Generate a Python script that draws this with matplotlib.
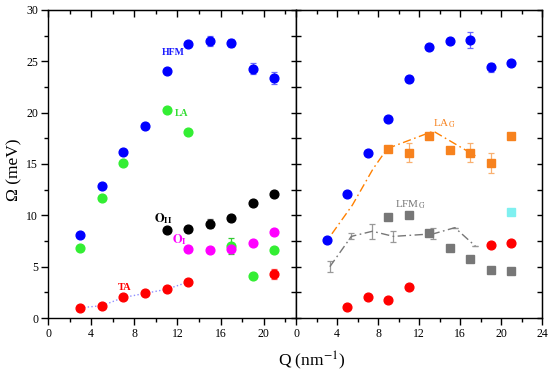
import numpy as np
import matplotlib
matplotlib.use('Agg')
import matplotlib.pyplot as plt
from matplotlib.ticker import MultipleLocator

plt.rcParams['font.family'] = ['Liberation Serif', 'DejaVu Serif']
plt.rcParams['mathtext.fontset'] = 'stix'

# ---- left panel data ----
hfm_q = [3, 5, 7, 9, 11, 13, 15, 17, 19, 21]
hfm_w = [8.1, 12.9, 16.2, 18.7, 24.1, 26.7, 27.0, 26.8, 24.3, 23.4]
hfm_e = [0, 0, 0, 0, 0, 0, 0.5, 0.4, 0.5, 0.6]

la_q = [3, 5, 7, 11, 13, 17, 19, 21]
la_w = [6.8, 11.7, 15.1, 20.3, 18.1, 7.0, 4.1, 6.6]
la_e = [0, 0, 0, 0, 0, 0.8, 0, 0]

o2_q = [11, 13, 15, 17, 19, 21]
o2_w = [8.6, 8.7, 9.2, 9.7, 11.2, 12.1]
o2_e = [0, 0.3, 0.4, 0.3, 0, 0]

o1_q = [13, 15, 17, 19, 21]
o1_w = [6.7, 6.6, 6.7, 7.3, 8.4]

ta_q = [3, 5, 7, 9, 11, 13, 21]
ta_w = [1.0, 1.2, 2.0, 2.4, 2.8, 3.5, 4.3]
ta_e = [0, 0, 0, 0, 0, 0, 0.5]

# ---- right panel data ----
hfmg_q = [3, 5, 7, 9, 11, 13, 15, 17, 19, 21]
hfmg_w = [7.6, 12.1, 16.1, 19.4, 23.3, 26.4, 27.0, 27.1, 24.4, 24.8]
hfmg_e = [0, 0, 0, 0, 0.3, 0, 0, 0.8, 0.4, 0]

lag_q = [9, 11, 13, 15, 17, 19, 21]
lag_w = [16.5, 16.1, 17.7, 16.4, 16.1, 15.1, 17.7]
lag_e = [0, 0.9, 0, 0, 0.9, 1.0, 0]
lag_line_q = [3.5, 5.5, 7.5, 8.9, 13.4, 17.5]
lag_line_w = [8.2, 11.0, 14.5, 16.5, 18.2, 15.8]

lfm_q = [9, 11, 13, 15, 17, 19, 21]
lfm_w = [9.8, 10.0, 8.3, 6.8, 5.7, 4.7, 4.55]
lfm_line_q = [3.3, 5.4, 7.45, 9.5, 13.4, 15.5, 17.5]
lfm_line_w = [5.0, 7.95, 8.45, 7.95, 8.2, 8.8, 7.0]
lfm_line_e = [0.55, 0.3, 0.75, 0.5, 0.55, 0, 0]

cyan_q = [21]
cyan_w = [10.3]

tag_q = [5, 7, 9, 11, 19, 21]
tag_w = [1.1, 2.0, 1.8, 3.0, 7.1, 7.3]

fig = plt.figure(figsize=(5.5, 3.74), dpi=100)
ax1 = fig.add_axes([0.0873, 0.1497, 0.4509, 0.8236])
ax2 = fig.add_axes([0.5382, 0.1497, 0.4473, 0.8236])

ms = 6.3
dashdot = (0, (6, 2.5, 1.2, 2.5))


def pts(ax, q, w, e, color, ecolor, marker='o'):
    ax.errorbar(q, w, yerr=e, fmt=marker, color=color, ms=ms, mec=color,
                ecolor=ecolor, elinewidth=0.9, capsize=2.2, capthick=0.9, zorder=3)


# left panel
ax1.plot(ta_q[:6], ta_w[:6], ':', color='#8f8fff', lw=1.0, zorder=2)
pts(ax1, hfm_q, hfm_w, hfm_e, '#0000ff', '#6a6aff')
pts(ax1, la_q, la_w, la_e, '#33ee33', '#33cc33')
pts(ax1, o2_q, o2_w, o2_e, 'black', '#555555')
pts(ax1, o1_q, o1_w, [0] * len(o1_q), '#ff00ff', '#ff66ff')
pts(ax1, ta_q, ta_w, ta_e, '#ff0000', '#ff5555')

ax1.text(11.6, 25.9, 'HFM', color='#1a1aff', fontsize=7, fontweight='bold', ha='center', va='center')
ax1.text(12.4, 19.9, 'LA', color='#33dd33', fontsize=7, fontweight='bold', ha='center', va='center')
ax1.text(10.7, 9.7, r'$\mathbf{O}_{\mathbf{II}}$', color='black', fontsize=9, ha='center', va='center')
ax1.text(12.2, 7.6, r'$\mathbf{O}_{\mathbf{I}}$', color='#ff00ff', fontsize=9, ha='center', va='center')
ax1.text(7.1, 3.0, 'TA', color='#ff0000', fontsize=7.5, fontweight='bold', ha='center', va='center')

# right panel
ax2.plot(lag_line_q, lag_line_w, linestyle=dashdot, color='#ff8000', lw=1.0, zorder=2)
eb = ax2.errorbar(lfm_line_q, lfm_line_w, yerr=lfm_line_e, fmt='none',
                  ecolor='#999999', elinewidth=0.9, capsize=2.5, capthick=0.9, zorder=2)
ax2.plot(lfm_line_q, lfm_line_w, linestyle=dashdot, color='#777777', lw=1.0, zorder=2)
pts(ax2, hfmg_q, hfmg_w, hfmg_e, '#0000ff', '#6a6aff')
pts(ax2, lag_q, lag_w, lag_e, '#f7821e', '#f9b070', marker='s')
pts(ax2, lfm_q, lfm_w, [0] * len(lfm_q), '#777777', '#999999', marker='s')
pts(ax2, cyan_q, cyan_w, [0], '#7ff0f0', '#7ff0f0', marker='s')
pts(ax2, tag_q, tag_w, [0] * len(tag_q), '#ff0000', '#ff5555')

ax2.text(14.5, 18.9, r'LA$_\mathrm{G}$', color='#f7821e', fontsize=8, ha='center', va='center')
ax2.text(11.1, 11.0, r'LFM$_\mathrm{G}$', color='#777777', fontsize=8, ha='center', va='center')

for ax, xmax in ((ax1, 23), (ax2, 24)):
    ax.set_xlim(0, xmax)
    ax.set_ylim(0, 30)
    ax.xaxis.set_major_locator(MultipleLocator(4))
    ax.xaxis.set_minor_locator(MultipleLocator(2))
    ax.yaxis.set_major_locator(MultipleLocator(5))
    ax.yaxis.set_minor_locator(MultipleLocator(2.5))
    ax.tick_params(axis='x', which='major', direction='out', length=5, width=1, labelsize=8.5, pad=2)
    ax.tick_params(axis='x', which='minor', direction='out', length=3, width=1)
    for s in ax.spines.values():
        s.set_linewidth(1.0)
    top = ax.secondary_xaxis('top')
    top.xaxis.set_major_locator(MultipleLocator(4))
    top.xaxis.set_minor_locator(MultipleLocator(2))
    top.tick_params(which='major', direction='in', length=5, width=1, labeltop=False)
    top.tick_params(which='minor', direction='in', length=3, width=1)
    right = ax.secondary_yaxis('right')
    right.yaxis.set_major_locator(MultipleLocator(2.5))
    right.tick_params(which='both', direction='in', length=3.5, width=1, labelright=False)

ax1.set_xticks([0, 4, 8, 12, 16, 20])
ax1.tick_params(axis='y', which='major', direction='out', length=5, width=1, labelsize=8.5, pad=2)
ax1.tick_params(axis='y', which='minor', direction='out', length=3, width=1)
ax2.yaxis.set_major_locator(MultipleLocator(2.5))
ax2.tick_params(axis='y', which='both', direction='in', length=3.5, width=1, labelleft=False)

fig.text(0.567, 0.035, r'Q (nm$^{-1}$)', fontsize=12.5, ha='center', va='center')
fig.text(0.027, 0.545, 'Ω (meV)', fontsize=12.5, rotation=90, ha='center', va='center')

fig.savefig('out.png', dpi=100)
